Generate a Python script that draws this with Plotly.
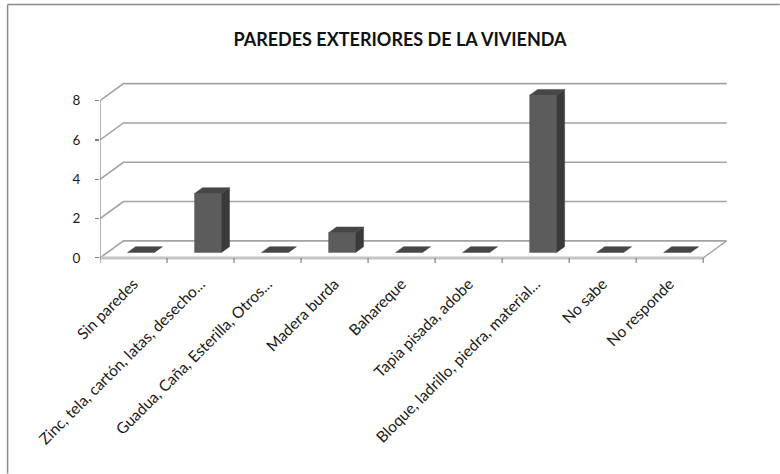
import plotly.graph_objects as go

# ---------------- data ----------------
categories = [
    "Sin paredes",
    "Zinc, tela, cartón, latas, desecho...",
    "Guadua, Caña, Esterilla, Otros...",
    "Madera burda",
    "Bahareque",
    "Tapia pisada, adobe",
    "Bloque, ladrillo, piedra, material...",
    "No sabe",
    "No responde",
]
values = [0, 3, 0, 1, 0, 0, 8, 0, 0]
y_ticks = [0, 2, 4, 6, 8]
title_text = "PAREDES EXTERIORES DE LA VIVIENDA"

# ---------------- style / layout constants ----------------
W_FIG, H_FIG = 780, 474
PX_PER_CAT = 67.1
PX_PER_VAL = 19.66
DEPTH_PX = (23.5, 17.0)
L_MARGIN = 99.5
X_RANGE = [0, 9.4]
Y_RANGE = [-0.26, 9.1]
ZERO_PX = 258.3

DX = DEPTH_PX[0] / PX_PER_CAT
DY = DEPTH_PX[1] / PX_PER_VAL
BAR_W = 27 / PX_PER_CAT
F1, F2 = 0.32, 0.66

plot_w = (X_RANGE[1] - X_RANGE[0]) * PX_PER_CAT
plot_h = (Y_RANGE[1] - Y_RANGE[0]) * PX_PER_VAL
t_margin = ZERO_PX - (Y_RANGE[1]) * PX_PER_VAL
b_margin = H_FIG - (ZERO_PX - Y_RANGE[0] * PX_PER_VAL)
r_margin = W_FIG - L_MARGIN - plot_w

n = len(categories)
fig = go.Figure()

GRID = "#a3a3a3"

# back wall grid lines + floor back edge
for v in y_ticks:
    fig.add_trace(go.Scatter(
        x=[0, DX, n + DX], y=[v, v + DY, v + DY], mode="lines",
        line=dict(color=GRID, width=1.6), hoverinfo="skip", showlegend=False))
# floor right edge
fig.add_trace(go.Scatter(
    x=[n, n + DX], y=[0, DY], mode="lines",
    line=dict(color=GRID, width=1.3), hoverinfo="skip", showlegend=False))
# floor front edge (thick light)
fig.add_trace(go.Scatter(
    x=[0, n], y=[0, 0], mode="lines",
    line=dict(color="#c4c4c4", width=3), hoverinfo="skip", showlegend=False))
# front value axis line
fig.add_trace(go.Scatter(
    x=[0, 0], y=[0, max(y_ticks)], mode="lines",
    line=dict(color="#8f8f8f", width=1.3), hoverinfo="skip", showlegend=False))
# category boundary ticks
tx, ty = [], []
for i in range(n + 1):
    tx += [i, i, None]
    ty += [0, -5 / PX_PER_VAL, None]
fig.add_trace(go.Scatter(
    x=tx, y=ty, mode="lines", line=dict(color="#808080", width=1.2),
    hoverinfo="skip", showlegend=False))

# bars
FRONT, SIDE, TOP = "#5c5c5c", "#3a3a3a", "#474747"
for i, v in enumerate(values):
    c = i + 0.5
    xl1 = c - BAR_W / 2 + F1 * DX
    xr1 = c + BAR_W / 2 + F1 * DX
    xl2 = c - BAR_W / 2 + F2 * DX
    xr2 = c + BAR_W / 2 + F2 * DX
    yb1, yb2 = F1 * DY, F2 * DY
    if v > 0:
        # front
        fig.add_trace(go.Scatter(
            x=[xl1, xr1, xr1, xl1, xl1], y=[yb1, yb1, yb1 + v, yb1 + v, yb1],
            fill="toself", fillcolor=FRONT, mode="lines",
            line=dict(color=FRONT, width=0.5), hoverinfo="skip", showlegend=False))
        # side
        fig.add_trace(go.Scatter(
            x=[xr1, xr2, xr2, xr1, xr1], y=[yb1, yb2, yb2 + v, yb1 + v, yb1],
            fill="toself", fillcolor=SIDE, mode="lines",
            line=dict(color=SIDE, width=0.5), hoverinfo="skip", showlegend=False))
    # top
    fig.add_trace(go.Scatter(
        x=[xl1, xr1, xr2, xl2, xl1], y=[yb1 + v, yb1 + v, yb2 + v, yb2 + v, yb1 + v],
        fill="toself", fillcolor=TOP, mode="lines",
        line=dict(color=TOP, width=0.5), hoverinfo="skip", showlegend=False))

# chart border (top and left), paper coordinates derived from margins
def px_to_paper_x(px):
    return (px - L_MARGIN) / plot_w

def px_to_paper_y(py):
    return (H_FIG - b_margin - py) / plot_h

fig.add_shape(type="line", xref="paper", yref="paper",
              x0=px_to_paper_x(7), x1=px_to_paper_x(W_FIG),
              y0=px_to_paper_y(5), y1=px_to_paper_y(5),
              line=dict(color="#8a8a8a", width=1.5))
fig.add_shape(type="line", xref="paper", yref="paper",
              x0=px_to_paper_x(7), x1=px_to_paper_x(7),
              y0=px_to_paper_y(5), y1=px_to_paper_y(H_FIG),
              line=dict(color="#8a8a8a", width=1.5))

fig.update_layout(
    width=W_FIG, height=H_FIG,
    margin=dict(l=L_MARGIN, r=r_margin, t=t_margin, b=b_margin, autoexpand=False),
    paper_bgcolor="white", plot_bgcolor="white",
    font=dict(family="Lato, sans-serif", color="#1a1a1a"),
    title=dict(text="<b>" + title_text + "</b>", x=400 / W_FIG, xref="container",
               xanchor="center", y=1 - 40 / H_FIG, yref="container", yanchor="middle",
               font=dict(family="Lato, sans-serif", size=18, color="#111111")),
    xaxis=dict(range=X_RANGE, showgrid=False, zeroline=False, showline=False,
               tickmode="array", tickvals=[i + 0.5 for i in range(n)],
               ticktext=categories, tickangle=-45, ticks="",
               tickfont=dict(size=15.5, color="#1a1a1a"), ticklabelstandoff=8,
               fixedrange=True),
    yaxis=dict(range=Y_RANGE, showgrid=False, zeroline=False, showline=False,
               tickmode="array", tickvals=y_ticks, ticks="outside", ticklen=4,
               tickcolor="#808080", tickwidth=1.2,
               tickfont=dict(size=13.5, color="#1a1a1a"), ticklabelstandoff=12,
               fixedrange=True),
    showlegend=False,
)

fig.write_html(
    "out.html",
    config={"displayModeBar": False, "staticPlot": True},
    post_script="document.body.style.margin='0';document.body.style.overflow='hidden';",
)
